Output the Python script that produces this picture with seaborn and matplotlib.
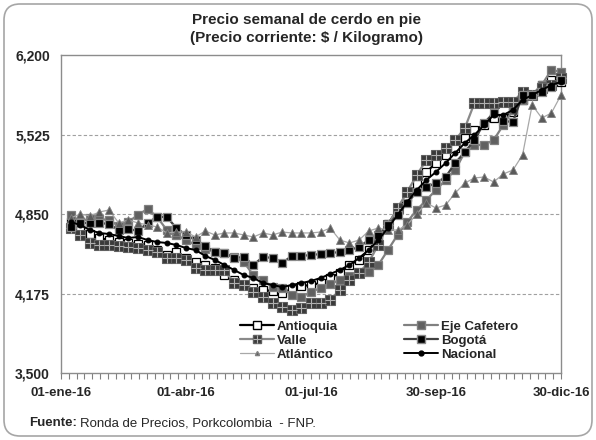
import numpy as np
import pandas as pd
import matplotlib
matplotlib.use("Agg")
import matplotlib.pyplot as plt
import matplotlib.dates as mdates
from matplotlib.ticker import FixedLocator
from matplotlib.patches import FancyBboxPatch
from matplotlib.lines import Line2D
from matplotlib.transforms import IdentityTransform
import seaborn as sns

# ---------------- data ----------------
semanas = pd.date_range("2016-01-08", periods=52, freq="7D")

antioquia = [4782, 4731, 4680, 4646, 4629, 4612, 4604, 4595, 4587, 4544, 4502, 4527, 4477,
             4443, 4417, 4392, 4332, 4290, 4247, 4222, 4205, 4196, 4179, 4213, 4239, 4247,
             4264, 4307, 4349, 4417, 4460, 4544, 4646, 4765, 4884, 4994, 5105, 5207, 5283,
             5351, 5410, 5495, 5563, 5606, 5665, 5665, 5716, 5818, 5860, 5945, 5988, 5971]
eje_cafetero = [4842, 4782, 4816, 4808, 4799, 4748, 4782, 4842, 4893, 4825, 4714, 4672, 4629,
                4587, 4553, 4527, 4519, 4485, 4443, 4332, 4290, 4230, 4222, 4163, 4146, 4188,
                4222, 4256, 4290, 4324, 4358, 4358, 4417, 4544, 4672, 4782, 4884, 4969, 5054,
                5139, 5224, 5376, 5436, 5436, 5478, 5606, 5733, 5818, 5860, 5945, 6073, 6056]
valle = [4731, 4672, 4604, 4587, 4587, 4578, 4570, 4561, 4544, 4527, 4477, 4477, 4460,
         4392, 4375, 4375, 4375, 4264, 4247, 4188, 4146, 4095, 4061, 4035, 4052, 4095,
         4095, 4120, 4205, 4290, 4349, 4443, 4587, 4757, 4901, 5037, 5181, 5309, 5351,
         5410, 5478, 5580, 5792, 5792, 5792, 5801, 5801, 5886, 5860, 5920, 5945, 6005]
bogota = [4740, 4774, 4774, 4774, 4765, 4714, 4723, 4706, 4774, 4825, 4825, 4731, 4672,
          4629, 4578, 4527, 4519, 4477, 4485, 4417, 4485, 4477, 4434, 4494, 4494, 4502,
          4510, 4519, 4527, 4544, 4570, 4629, 4672, 4757, 4842, 4944, 5037, 5079, 5113,
          5164, 5283, 5376, 5478, 5623, 5708, 5640, 5631, 5860, 5860, 5886, 5928, 5988]
atlantico = [4816, 4850, 4833, 4867, 4884, 4774, 4799, 4774, 4757, 4740, 4689, 4697, 4697,
             4655, 4706, 4672, 4689, 4689, 4672, 4655, 4689, 4672, 4697, 4689, 4689, 4689,
             4697, 4731, 4629, 4604, 4629, 4706, 4731, 4714, 4714, 4757, 4850, 4943, 4901,
             4926, 5028, 5113, 5156, 5164, 5122, 5190, 5223, 5351, 5775, 5665, 5707, 5860]
nacional = [4782, 4757, 4714, 4689, 4680, 4663, 4646, 4655, 4629, 4612, 4604, 4587, 4561,
            4544, 4494, 4460, 4417, 4375, 4332, 4307, 4264, 4247, 4230, 4247, 4264, 4281,
            4307, 4341, 4375, 4417, 4477, 4544, 4629, 4731, 4842, 4952, 5054, 5139, 5207,
            5283, 5368, 5453, 5521, 5606, 5691, 5691, 5733, 5818, 5860, 5903, 5945, 5971]

y_ticks = [3500, 4175, 4850, 5525, 6200]
x_tick_dates = ["2016-01-01", "2016-04-01", "2016-07-01", "2016-09-30", "2016-12-30"]
x_tick_labels = ["01-ene-16", "01-abr-16", "01-jul-16", "30-sep-16", "30-dic-16"]

# ---------------- style ----------------
sns.set_theme(style="white")
plt.rcParams["font.family"] = ["Liberation Sans", "DejaVu Sans"]

fig = plt.figure(figsize=(5.96, 4.40), dpi=100)
ax = fig.add_axes([61 / 596, 67 / 440, 500 / 596, 318 / 440])

common = dict(ax=ax, clip_on=False, legend=False)
sns.lineplot(x=semanas, y=antioquia, color="black", lw=1.6, marker="s", markersize=6,
             markerfacecolor="white", markeredgecolor="black", markeredgewidth=0.9,
             zorder=3, **common)
sns.lineplot(x=semanas, y=eje_cafetero, color="#808080", lw=1.6, marker="s", markersize=6,
             markerfacecolor="#606060", markeredgecolor="#808080", markeredgewidth=0.9,
             zorder=4, **common)
sns.lineplot(x=semanas, y=valle, color="#8a8a8a", lw=1.6, marker="s", markersize=6.5,
             markerfacecolor="#3a3a3a", markeredgecolor="#606060", markeredgewidth=0.8,
             zorder=5, **common)
ax.plot(semanas, valle, ls="none", marker="+", markersize=6.5, markeredgecolor="#b0b0b0",
        markeredgewidth=0.8, clip_on=False, zorder=5.5)
sns.lineplot(x=semanas, y=bogota, color="#404040", lw=1.6, marker="s", markersize=6,
             markerfacecolor="black", markeredgecolor="#8a8a8a", markeredgewidth=0.9,
             zorder=6, **common)
sns.lineplot(x=semanas, y=atlantico, color="#a8a8a8", lw=0.9, marker="^", markersize=6,
             markerfacecolor="#5a5a5a", markeredgecolor="#808080", markeredgewidth=0.6,
             zorder=7, **common)
sns.lineplot(x=semanas, y=nacional, color="black", lw=1.4, marker="o", markersize=3.5,
             markerfacecolor="black", markeredgecolor="black",
             zorder=8, **common)

# axes
x0, x1 = pd.Timestamp("2016-01-01"), pd.Timestamp("2016-12-30")
ax.set_xlim(x0, x1)
ax.set_ylim(3500, 6200)
ax.set_yticks(y_ticks)
ax.set_yticklabels([f"{v:,}" for v in y_ticks], fontsize=10, fontweight="bold")
ax.set_xticks(pd.to_datetime(x_tick_dates))
ax.set_xticklabels(x_tick_labels, fontsize=9.5, fontweight="bold")
ax.xaxis.set_minor_locator(FixedLocator(np.linspace(mdates.date2num(x0), mdates.date2num(x1), 65)))
ax.tick_params(axis="x", which="both", direction="out", length=4, width=0.8,
               color="#808080", pad=6, bottom=True)
ax.tick_params(axis="y", length=0, pad=8)
ax.set_xlabel("")
ax.set_ylabel("")
for s in ax.spines.values():
    s.set_color("#8c8c8c")
    s.set_linewidth(1.0)
for v in y_ticks[1:-1]:
    ax.axhline(v, color="#a0a0a0", lw=0.8, ls=(0, (3, 2)), zorder=1)
ax.grid(False)

# legend
def h(**kw):
    return Line2D([0], [0], **kw)

h_ant = h(color="black", lw=1.6, marker="s", markersize=5.5, markerfacecolor="white",
          markeredgecolor="black")
h_eje = h(color="#808080", lw=1.6, marker="s", markersize=5.5, markerfacecolor="#606060",
          markeredgecolor="#808080")
h_val = (h(color="#8a8a8a", lw=1.6, marker="s", markersize=6, markerfacecolor="#3a3a3a",
           markeredgecolor="#606060"),
         h(ls="none", marker="+", markersize=6, markeredgecolor="#b0b0b0", markeredgewidth=0.8))
h_bog = h(color="#404040", lw=1.6, marker="s", markersize=5.5, markerfacecolor="black",
          markeredgecolor="#8a8a8a")
h_atl = h(color="#a8a8a8", lw=0.9, marker="^", markersize=3, markerfacecolor="#5a5a5a",
          markeredgecolor="#808080")
h_nac = h(color="black", lw=1.4, marker="o", markersize=3.5, markerfacecolor="black")

leg = ax.legend([h_ant, h_val, h_atl, h_eje, h_bog, h_nac],
                ["Antioquia", "Valle", "Atlántico", "Eje Cafetero", "Bogotá", "Nacional"],
                ncol=2, loc="upper left", bbox_to_anchor=(0.345, 0.185), frameon=False,
                prop={"weight": "bold", "size": 9.5}, handlelength=2.6, handletextpad=0.2,
                labelspacing=0.12, columnspacing=5.0, borderpad=0)

# titles
fig.text(307 / 596, 1 - 20 / 440, "Precio semanal de cerdo en pie", ha="center", va="center",
         fontsize=11, fontweight="bold")
fig.text(307 / 596, 1 - 38 / 440, "(Precio corriente: $ / Kilogramo)", ha="center", va="center",
         fontsize=11, fontweight="bold")

# footer
t1 = fig.text(29 / 596, 1 - 423 / 440, "Fuente:", ha="left", va="center", fontsize=9.5,
              fontweight="bold")
fig.canvas.draw()
bb = t1.get_window_extent()
fig.text((bb.x1 + 3) / 596, 1 - 423 / 440, "Ronda de Precios, Porkcolombia  - FNP.", ha="left",
         va="center", fontsize=9.5)

# rounded border
fig.patches.append(FancyBboxPatch((4, 4), 588, 432, boxstyle="round,pad=0,rounding_size=16",
                                  transform=IdentityTransform(), fc="none", ec="#a6a6a6",
                                  lw=1.2, figure=fig))

fig.savefig("out.png", dpi=100)
